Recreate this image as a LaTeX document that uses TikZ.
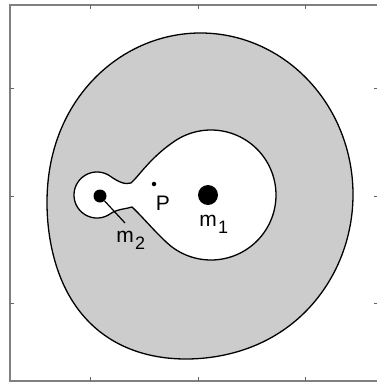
\documentclass[tikz,border=0pt]{standalone}
\usepackage{fontspec}
\setmainfont{Liberation Sans}
\begin{document}
\begin{tikzpicture}[x=1pt,y=-1pt,
  declare function={cc(\t)=max(0,cos(\t-130)); bb(\t)=12*cc(\t)*cc(\t)*cc(\t)*cc(\t)*cc(\t)*cc(\t);},
  framecol/.style={draw=black!50,line width=1.6pt},
  tick/.style={draw=black!60,line width=1pt},
  contour/.style={draw=black,line width=1.3pt,line join=round},
  mass/.style={circle,fill=black,inner sep=0pt},
  lbl/.style={font=\fontsize{21}{21}\selectfont,inner sep=0pt},
  sub/.style={font=\fontsize{18}{18}\selectfont,inner sep=0pt}]
\useasboundingbox (0,0) rectangle (377,383);
\fill[white] (0,0) rectangle (377,383);
% outer region
\filldraw[contour,fill=black!20] plot[smooth cycle,domain=0:358,samples=180,variable=\t]
  ({200.5+(152.5+bb(\t))*cos(\t)},{194.5+(161.5+bb(\t))*sin(\t)});
% inner region
\filldraw[contour,fill=white]
  (131,183) .. controls (139,176) and (150,158) .. (173.7,141.8)
  -- plot[smooth,domain=-125:125,samples=60,variable=\t] ({211+65*cos(\t)},{195+65*sin(\t)})
  .. controls (161.4,239.6) and (142,216) .. (132,207)
  .. controls (126,209) and (117,209) .. (110.2,213.8)
  -- plot[smooth,domain=55:305,samples=50,variable=\t] ({97+23*cos(\t)},{195+23*sin(\t)})
  .. controls (118,181.7) and (125,185) .. cycle;
% frame
\draw[framecol] (377,5) -- (10,5) -- (10,381) -- (377,381);
\foreach \x in {90,198,305}{
  \draw[tick] (\x,5) -- (\x,9);
  \draw[tick] (\x,381) -- (\x,377);}
\foreach \y in {88,196,303}{
  \draw[tick] (10,\y) -- (14,\y);
  \draw[tick] (377,\y) -- (374,\y);}
% masses
\node[mass,minimum size=20pt] (m1) at (208,195) {};
\node[mass,minimum size=13pt] (m2) at (100,196) {};
\node[mass,minimum size=4.5pt] (p) at (154,184) {};
\node[lbl,anchor=base] (pl) at (163,210) {P};
\node[lbl,anchor=base] (m1l) at (208,226) {m};
\node[sub,anchor=base west] (m1s) at (m1l.base east) [yshift=-7pt,xshift=1pt] {1};
\node[lbl,anchor=base] (m2l) at (125,242) {m};
\node[sub,anchor=base west] (m2s) at (m2l.base east) [yshift=-7pt,xshift=1pt] {2};
\coordinate (m2e) at (125,223);
\draw[line width=1.2pt] (m2) -- (m2e);
\end{tikzpicture}
\end{document}
